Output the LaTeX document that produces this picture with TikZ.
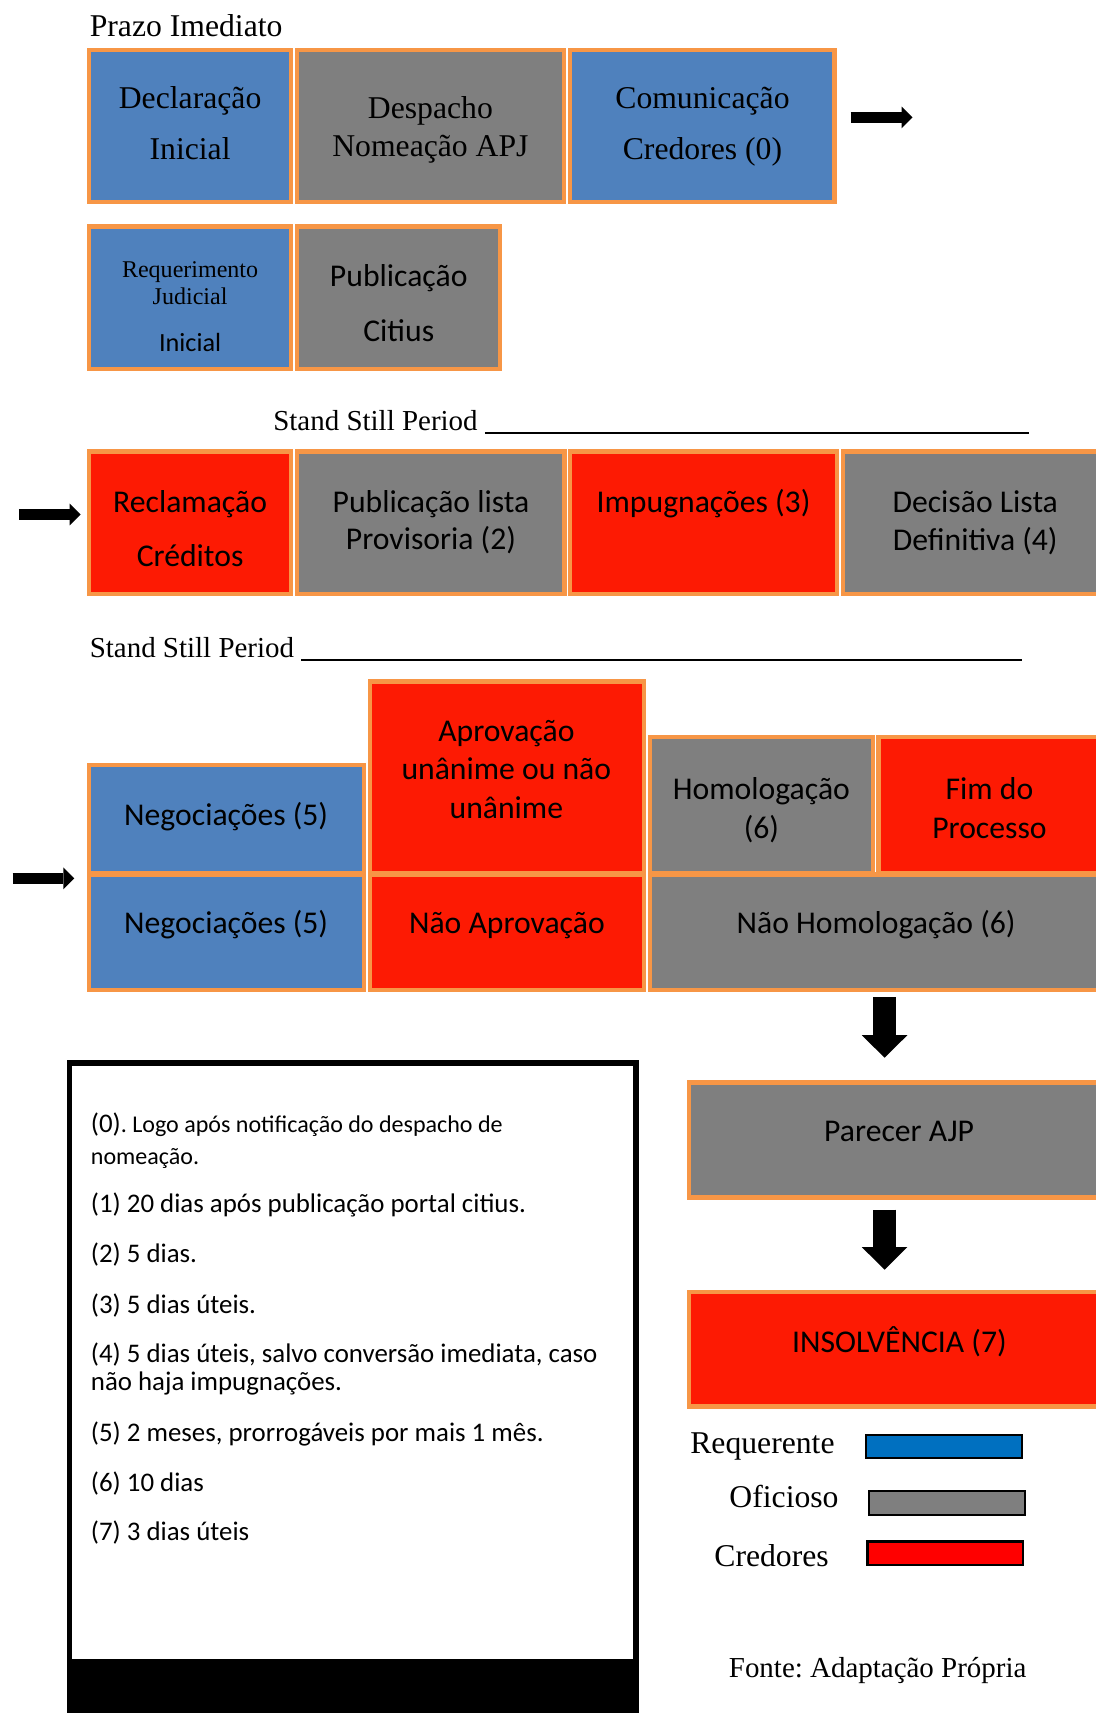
\documentclass[tikz,border=0pt]{standalone}
\usepackage{fontspec}
\setmainfont{Liberation Serif}
\newfontfamily\tnr{Liberation Serif}
\newfontfamily\cbr{Carlito}
\usetikzlibrary{arrows.meta}
\frenchspacing
\definecolor{boxblue}{HTML}{4F81BD}
\definecolor{boxgray}{HTML}{7F7F7F}
\definecolor{boxred}{RGB}{253,26,3}
\definecolor{boxorange}{HTML}{F79646}
\definecolor{legblue}{HTML}{0070C0}
\definecolor{legred}{HTML}{FF0000}
\tikzset{
  cell/.style={draw=boxorange, line width=4pt, inner sep=0pt, outer sep=0pt, rectangle},
  legbox/.style={draw=black, line width=2pt, inner sep=0pt, outer sep=0pt, rectangle},
  serC/.style={font=\tnr\fontsize{29}{34}\selectfont, inner sep=0pt, anchor=base},
  serS/.style={font=\tnr\fontsize{22}{26}\selectfont, inner sep=0pt, anchor=base},
  serL/.style={font=\tnr\fontsize{29}{34}\selectfont, inner sep=0pt, anchor=base west},
  serM/.style={font=\tnr\fontsize{26.5}{31}\selectfont, inner sep=0pt, anchor=base west},
  calC/.style={font=\cbr\fontsize{29}{34}\selectfont, inner sep=0pt, anchor=base},
  calS/.style={font=\cbr\fontsize{24}{28}\selectfont, inner sep=0pt, anchor=base},
  noteL/.style={font=\cbr\fontsize{24.6}{29}\selectfont, inner sep=0pt, anchor=base west},
  arrowR/.style={line width=9.7pt, -{Triangle[length=10pt,width=20pt,line width=0pt]}},
  arrowD/.style={line width=20.4pt, -{Triangle[length=20.7pt,width=41.8pt,line width=0pt]}},
}
\newcommand\cellbox[6]{\node[cell, fill=#2, minimum width={#5-#3-4}, minimum height={#6-#4-4}] (#1) at ({(#3+#5)/2},{(#4+#6)/2}) {};}
\newcommand\tx[5]{\node[#2] (#1) at (#3,#4) {#5};}
\begin{document}
\begin{tikzpicture}[x=1pt,y=-1pt]
\useasboundingbox (0,0) rectangle (1003,1568);
\clip (0,0) rectangle (1003,1568);

% ---- Prazo Imediato ----
\tx{title}{serL}{82}{33}{Prazo Imediato}

% Row 1
\cellbox{d1}{boxblue}{79.5}{43.5}{268.4}{187}
\cellbox{d2}{boxgray}{270}{43.5}{518}{187}
\cellbox{d3}{boxblue}{519.5}{43.5}{766}{187}
\tx{d1a}{serC}{174}{99}{Declaração}
\tx{d1b}{serC}{174}{146}{Inicial}
\tx{d2a}{serC}{394}{108.3}{Despacho}
\tx{d2b}{serC}{394}{143.4}{Nomeação APJ}
\tx{d3a}{serC}{643}{99}{Comunicação}
\tx{d3b}{serC}{643}{146}{Credores (0)}

% Row 2
\cellbox{r1}{boxblue}{79.5}{205.3}{268.4}{340}
\cellbox{r2}{boxgray}{270}{205.3}{459.7}{340}
\tx{r1a}{serS}{174}{253.8}{Requerimento}
\tx{r1b}{serS}{174}{279.1}{Judicial}
\tx{r1c}{calS}{174}{321.8}{Inicial}
\tx{r2a}{calC}{365}{262.4}{Publicação}
\tx{r2b}{calC}{365}{312.7}{Citius}

% Stand still 1
\tx{ss1}{serM}{250}{394.1}{Stand Still Period \rule[-3.4pt]{498pt}{1.8pt}}

% Row 3
\cellbox{c1}{boxred}{79.5}{411.2}{268.4}{546}
\cellbox{c2}{boxgray}{270}{411.2}{518.6}{546}
\cellbox{c3}{boxred}{520}{411.2}{768}{546}
\cellbox{c4}{boxgray}{769.5}{411.2}{1012}{546}
\tx{c1a}{calC}{174}{468.7}{Reclamação}
\tx{c1b}{calC}{174}{518.7}{Créditos}
\tx{c2a}{calC}{394.5}{468.7}{Publicação lista}
\tx{c2b}{calC}{394.5}{503.3}{Provisoria (2)}
\tx{c3a}{calC}{644}{469}{Impugnações (3)}
\tx{c4a}{calC}{892.7}{469}{Decisão Lista}
\tx{c4b}{calC}{892.7}{504.3}{Definitiva (4)}

% Stand still 2
\tx{ss2}{serM}{82}{601.5}{Stand Still Period \rule[-3.4pt]{659.7pt}{1.8pt}}

% Row 4 (upper)
\cellbox{n1}{boxblue}{79.5}{698.5}{335}{801}
\cellbox{a1}{boxred}{336.5}{621.7}{591.5}{801}
\cellbox{h1}{boxgray}{593}{672.6}{801}{801}
\cellbox{f1}{boxred}{802}{672.6}{1012}{801}
% Row 5 (lower)
\cellbox{n2}{boxblue}{79.5}{798.3}{335}{908}
\cellbox{a2}{boxred}{336.5}{798.3}{591.5}{908}
\cellbox{nh}{boxgray}{593}{798.3}{1012}{908}

\tx{n1a}{calC}{207}{755.5}{Negociações (5)}
\tx{a1a}{calC}{463.5}{678.7}{Aprovação}
\tx{a1b}{calC}{463.5}{713.8}{unânime ou não}
\tx{a1c}{calC}{463.5}{748.9}{unânime}
\tx{h1a}{calC}{697}{731.5}{Homologação}
\tx{h1b}{calC}{697}{767.2}{(6)}
\tx{f1a}{calC}{905.7}{731.5}{Fim do}
\tx{f1b}{calC}{905.7}{767.2}{Processo}
\tx{n2a}{calC}{207}{854.6}{Negociações (5)}
\tx{a2a}{calC}{464}{854.6}{Não Aprovação}
\tx{nha}{calC}{802}{854.6}{Não Homologação (6)}

% Parecer / Insolvencia
\cellbox{pa}{boxgray}{628.7}{989}{1012}{1098.2}
\cellbox{ins}{boxred}{628.7}{1180.5}{1012}{1289.4}
\tx{paa}{calC}{823}{1045.3}{Parecer AJP}
\tx{insa}{calC}{823.3}{1237.8}{INSOLVÊNCIA (7)}

% Arrows
\coordinate (ar1s) at (778.5,107.5);
\coordinate (ar1e) at (835.3,107.5);
\coordinate (ar2s) at (17.3,471);
\coordinate (ar2e) at (73.8,471);
\coordinate (ar3s) at (11.5,804);
\coordinate (ar3e) at (68,804);
\coordinate (ad1s) at (809.7,913);
\coordinate (ad1e) at (809.7,968.2);
\coordinate (ad2s) at (809.7,1107.3);
\coordinate (ad2e) at (809.7,1162.2);
\draw[arrowR] (ar1s) -- (ar1e);
\draw[arrowR] (ar2s) -- (ar2e);
\draw[arrowR] (ar3s) -- (ar3e);
\draw[arrowD] (ad1s) -- (ad1e);
\draw[arrowD] (ad2s) -- (ad2e);

% Notes box
\node[draw=black, line width=5.3pt, fill=white, inner sep=0pt, minimum width={585-61-5.3}, minimum height={1640-970.5-5.3}] (notes) at ({(61+585)/2},{(970.5+1640)/2}) {};
\fill[black] (61,1518.6) rectangle (585,1640);
\tx{nt0}{noteL}{83}{1036.8}{(0){\fontsize{22}{26}\selectfont. Logo após notificação do despacho de}}
\tx{nt0b}{noteL}{83}{1066}{{\fontsize{22}{26}\selectfont nomeação.}}
\tx{nt1}{noteL}{83}{1110}{(1) 20 dias após publicação portal citius.}
\tx{nt2}{noteL}{83}{1156}{(2) 5 dias.}
\tx{nt3}{noteL}{83}{1202}{(3) 5 dias úteis.}
\tx{nt4}{noteL}{83}{1247}{(4) 5 dias úteis, salvo conversão imediata, caso}
\tx{nt4b}{noteL}{83}{1273}{não haja impugnações.}
\tx{nt5}{noteL}{83}{1319.5}{(5) 2 meses, prorrogáveis por mais 1 mês.}
\tx{nt6}{noteL}{83}{1365}{(6) 10 dias}
\tx{nt7}{noteL}{83}{1410.5}{(7) 3 dias úteis}

% Legend
\tx{lg1}{serL}{631.7}{1330}{Requerente}
\tx{lg2}{serL}{667.5}{1380.3}{Oficioso}
\tx{lg3}{serL}{653.7}{1433.5}{Credores}
\node[legbox, fill=legblue, minimum width=142.6, minimum height=21.2] (lb1) at (864.2,1323.9) {};
\node[legbox, fill=boxgray, minimum width=142.7, minimum height=21.9] (lb2) at (866.65,1375.45) {};
\node[legbox, fill=legred, minimum width=142.6, minimum height=21.7] (lb3) at (865.4,1421.85) {};

% Source
\tx{fonte}{serM}{667}{1535.2}{Fonte: Adaptação Própria}
\end{tikzpicture}
\end{document}
